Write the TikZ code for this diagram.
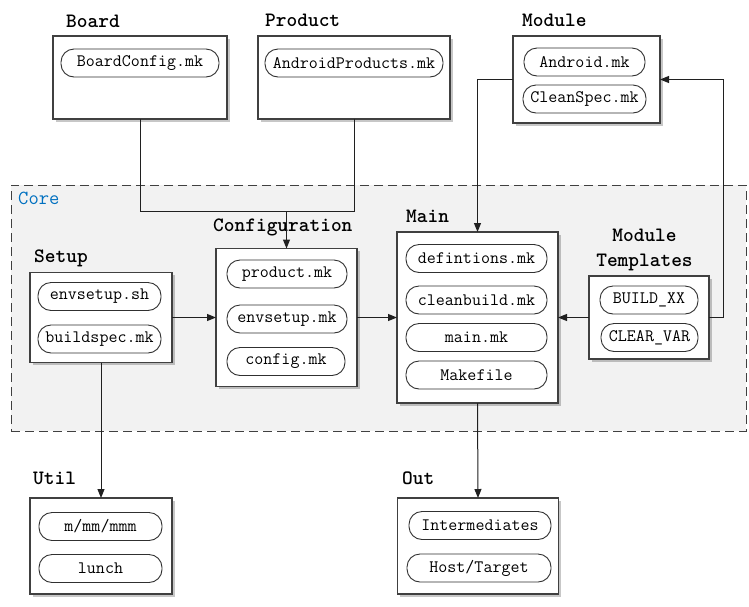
\documentclass[tikz,border=0pt]{standalone}
\usepackage{fontspec}
\usetikzlibrary{arrows.meta,shadows}
\definecolor{boxc}{HTML}{404040}
\definecolor{pillc}{HTML}{303030}
\definecolor{linec}{HTML}{202020}
\definecolor{corefill}{HTML}{F2F2F2}
\definecolor{coreblue}{HTML}{0070C0}
\newcommand{\pillfont}{\ttfamily\fontsize{17.5}{19}\selectfont}
\newcommand{\headfont}{\ttfamily\bfseries\fontsize{20.4}{25}\selectfont}
\tikzset{
  box/.style={draw=boxc, line width=1.3pt, fill=white, inner sep=0pt, outer sep=0pt,
    drop shadow={shadow xshift=2.5pt, shadow yshift=-2.5pt, opacity=0.22, fill=black}},
  pill/.style={draw=pillc, line width=0.9pt, fill=white, rounded corners=13pt,
    minimum height=28pt, inner sep=0pt, font=\pillfont},
  head/.style={font=\headfont, inner sep=0pt, anchor=west},
  link/.style={draw=linec, line width=1pt},
  arr/.style={link, -{Triangle[length=9pt,width=7pt]}},
  corebox/.style={draw=boxc, line width=0.9pt, fill=corefill, dash pattern=on 9pt off 5pt,
    minimum width=735pt, minimum height=246pt, inner sep=0pt, outer sep=0pt},
}
\begin{document}
\begin{tikzpicture}[x=1pt,y=-1pt]
\useasboundingbox[fill=white] (0,0) rectangle (749,606);
% Core region
\node[corebox] (core) at (378.5,308) {};
\node[font=\ttfamily\fontsize{20}{22}\selectfont, text=coreblue, inner sep=0pt, anchor=west] (corelbl) at (18,198) {Core};

% Board
\node[head] (hboard) at (66,21) {Board};
\node[box, minimum width=174pt, minimum height=83pt] (board) at (140,77.5) {};
\node[pill, minimum width=158pt] (p1) at (140,63) {BoardConfig.mk};

% Product
\node[head] (hprod) at (265,20) {Product};
\node[box, minimum width=192pt, minimum height=83pt] (product) at (354,77.5) {};
\node[pill, minimum width=178pt] (p2) at (354,63) {AndroidProducts.mk};

% Module
\node[head] (hmod) at (522,20) {Module};
\node[box, minimum width=147pt, minimum height=87pt] (module) at (586.5,79.5) {};
\node[pill, minimum width=121pt] (p3) at (584.5,62) {Android.mk};
\node[pill, minimum width=123pt] (p4) at (584.5,99) {CleanSpec.mk};

% Setup
\node[head] (hsetup) at (34,258) {Setup};
\node[box, minimum width=142pt, minimum height=90pt] (setup) at (101,317.5) {};
\node[pill, minimum width=123pt] (p5) at (99.5,296.5) {envsetup.sh};
\node[pill, minimum width=123pt] (p6) at (99.5,339) {buildspec.mk};

% Configuration
\node[head] (hconf) at (213,227) {Configuration};
\node[box, minimum width=141pt, minimum height=138pt] (config) at (286.5,317.5) {};
\node[pill, minimum width=120pt] (p7) at (287,274) {product.mk};
\node[pill, minimum width=120pt] (p8) at (287,319) {envsetup.mk};
\node[pill, minimum width=118pt] (p9) at (286,361.5) {config.mk};

% Main
\node[head] (hmain) at (406,216) {Main};
\node[box, minimum width=161pt, minimum height=171pt] (main) at (477.5,317.5) {};
\node[pill, minimum width=141pt] (p10) at (476.5,258.5) {defintions.mk};
\node[pill, minimum width=141pt] (p11) at (476.5,300) {cleanbuild.mk};
\node[pill, minimum width=141pt] (p12) at (476.5,337.5) {main.mk};
\node[pill, minimum width=141pt] (p13) at (476.5,375) {Makefile};

% Module Templates
\node[font=\headfont, inner sep=0pt, align=center] (htempl) at (644.5,249.5) {Module\\[0pt]Templates};
\node[box, minimum width=120pt, minimum height=83pt] (templ) at (649,317.5) {};
\node[pill, minimum width=98pt] (p14) at (649,300) {BUILD\_XX};
\node[pill, minimum width=97pt] (p15) at (649.5,337.5) {CLEAR\_VAR};

% Util
\node[head] (hutil) at (33,478) {Util};
\node[box, minimum width=142pt, minimum height=96pt] (util) at (101,546) {};
\node[pill, minimum width=123pt] (p16) at (100.5,526.5) {m/mm/mmm};
\node[pill, minimum width=123pt] (p17) at (100.5,568.5) {lunch};

% Out
\node[head] (hout) at (402,478) {Out};
\node[box, minimum width=161pt, minimum height=96pt] (out) at (478,546) {};
\node[pill, minimum width=142pt] (p18) at (480,525.5) {Intermediates};
\node[pill, minimum width=144pt] (p19) at (479,568) {Host/Target};

% connectors
\coordinate (jn) at (286.5,211);
\coordinate (rt) at (723,79.5);
\draw[link] (board.south) -- (board.south |- jn) -- (product.south |- jn) -- (product.south);
\draw[arr] (jn) -- (config.north);
\draw[arr] (setup.east) -- (config.west);
\draw[arr] (config.east) -- (main.west);
\draw[arr] (templ.west) -- (main.east);
\draw[arr] (module.west) -| (main.north);
\draw[arr] (templ.east) -| (rt) -- (module.east);
\draw[arr] (setup.south) -- (util.north);
\draw[arr] (main.south) -- (out.north);
\end{tikzpicture}
\end{document}
